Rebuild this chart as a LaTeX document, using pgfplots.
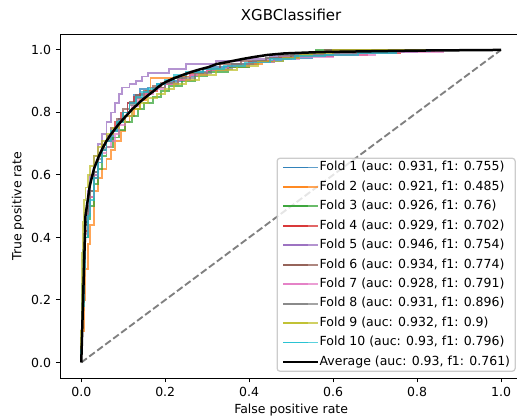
\documentclass[border=0pt]{standalone}
\usepackage{fontspec}
\setmainfont{DejaVu Sans}
\usepackage{pgfplots}
\pgfplotsset{compat=1.18}
\definecolor{c0}{HTML}{1F77B4}
\definecolor{c1}{HTML}{FF7F0E}
\definecolor{c2}{HTML}{2CA02C}
\definecolor{c3}{HTML}{D62728}
\definecolor{c4}{HTML}{9467BD}
\definecolor{c5}{HTML}{8C564B}
\definecolor{c6}{HTML}{E377C2}
\definecolor{c7}{HTML}{7F7F7F}
\definecolor{c8}{HTML}{BCBD22}
\definecolor{c9}{HTML}{17BECF}
\begin{document}
\begin{tikzpicture}
\begin{axis}[name=ax, scale only axis, width=332.4pt, height=247.5pt,
  xmin=-0.05, xmax=1.05, ymin=-0.05, ymax=1.05,
  xtick={0,0.2,0.4,0.6,0.8,1.0}, ytick={0,0.2,0.4,0.6,0.8,1.0},
  xtick pos=bottom, ytick pos=left, tick align=outside,
  major tick length=3.15pt,
  every tick/.style={black, line width=0.72pt},
  axis line style={line width=0.72pt},
  tick label style={font=\fontsize{9}{11}\selectfont},
  /pgf/number format/.cd, fixed, fixed zerofill, precision=1, assume math mode=true,
  /pgfplots/.cd,
  title={XGBClassifier},
  title style={font=\fontsize{10.8}{13}\selectfont, at={(axis description cs:0.5,1.032)}, anchor=center},
  xlabel={False positive rate},
  xlabel style={font=\fontsize{9}{11}\selectfont, at={(axis description cs:0.5,-0.093)}, anchor=center},
  ylabel={True positive rate},
  ylabel style={font=\fontsize{9}{11}\selectfont, at={(axis description cs:-0.0918,0.5)}, anchor=center},
  legend cell align=left,
  legend style={at={(axis description cs:1,0)}, anchor=south east, xshift=-4.5pt, yshift=4.5pt,
    draw=black!20, line width=0.9pt, fill=white, fill opacity=0.8, text opacity=1,
    rounded corners=2pt, font=\fontsize{9}{11}\selectfont,
    inner xsep=3.6pt, inner ysep=2pt, row sep=4.7pt, column sep=0pt,
    nodes={text height=7pt, text depth=2.3pt, inner ysep=0pt, inner xsep=0pt}},
  legend image code/.code={\draw[#1, line width=1.35pt] (0pt,0pt) -- (18pt,0pt); \path (0pt,0pt) -- (25.2pt,0pt);},
  every axis plot/.append style={line width=1.35pt, opacity=0.7},
]
\addplot[color=black!50, line width=1.35pt, dash pattern=on 5pt off 2.16pt, opacity=1, forget plot] coordinates {(0,0) (1,1)};
% Fold 1
\addplot[c0, const plot] coordinates {(0,0) (0,0.05) (0.002,0.25) (0.005,0.36) (0.01,0.45) (0.015,0.5) (0.02,0.55) (0.03,0.6) (0.04,0.64) (0.05,0.68) (0.06,0.71) (0.075,0.74) (0.09,0.78) (0.1,0.8) (0.11,0.83) (0.125,0.855) (0.14,0.875) (0.16,0.88) (0.18,0.89) (0.21,0.9) (0.24,0.915) (0.27,0.93) (0.31,0.945) (0.36,0.955) (0.42,0.965) (0.48,0.975) (0.55,0.98) (0.6,0.985) (0.647,0.992) (0.8,1.0) (1,1)};
\addlegendentry{Fold 1 (auc: 0.931, f1: 0.755)}
% Fold 2
\addplot[c1, const plot] coordinates {(0,0) (0,0.03) (0.003,0.1) (0.006,0.2) (0.01,0.3) (0.015,0.38) (0.02,0.44) (0.03,0.55) (0.04,0.59) (0.05,0.62) (0.06,0.65) (0.07,0.68) (0.08,0.71) (0.095,0.74) (0.105,0.77) (0.115,0.79) (0.125,0.81) (0.14,0.84) (0.155,0.87) (0.165,0.91) (0.22,0.915) (0.26,0.925) (0.3,0.935) (0.35,0.945) (0.4,0.955) (0.43,0.965) (0.45,0.975) (0.47,0.982) (0.57,0.985) (0.65,0.99) (0.7,1.0) (1,1)};
\addlegendentry{Fold 2 (auc: 0.921, f1: 0.485)}
% Fold 3
\addplot[c2, const plot] coordinates {(0,0) (0,0.04) (0.003,0.2) (0.006,0.32) (0.01,0.4) (0.015,0.46) (0.02,0.5) (0.03,0.57) (0.04,0.62) (0.05,0.66) (0.06,0.69) (0.075,0.72) (0.09,0.745) (0.105,0.77) (0.12,0.79) (0.135,0.81) (0.15,0.83) (0.17,0.85) (0.19,0.87) (0.21,0.885) (0.24,0.9) (0.27,0.915) (0.3,0.93) (0.35,0.945) (0.4,0.96) (0.46,0.97) (0.5,0.98) (0.53,0.99) (0.56,1.0) (1,1)};
\addlegendentry{Fold 3 (auc: 0.926, f1: 0.76)}
% Fold 4
\addplot[c3, const plot] coordinates {(0,0) (0,0.05) (0.003,0.22) (0.006,0.33) (0.01,0.42) (0.015,0.48) (0.02,0.53) (0.03,0.59) (0.04,0.64) (0.05,0.68) (0.06,0.71) (0.07,0.74) (0.08,0.77) (0.095,0.8) (0.11,0.83) (0.125,0.85) (0.14,0.86) (0.16,0.87) (0.18,0.88) (0.2,0.89) (0.23,0.905) (0.26,0.92) (0.3,0.935) (0.35,0.95) (0.4,0.963) (0.46,0.975) (0.52,0.98) (0.6,0.985) (0.68,0.99) (0.76,0.995) (0.84,1.0) (1,1)};
\addlegendentry{Fold 4 (auc: 0.929, f1: 0.702)}
% Fold 5
\addplot[c4, const plot] coordinates {(0,0) (0,0.06) (0.003,0.28) (0.006,0.4) (0.01,0.48) (0.015,0.55) (0.02,0.6) (0.03,0.66) (0.04,0.7) (0.05,0.73) (0.06,0.77) (0.07,0.8) (0.08,0.83) (0.09,0.86) (0.097,0.88) (0.115,0.89) (0.13,0.9) (0.145,0.915) (0.16,0.925) (0.21,0.94) (0.25,0.955) (0.32,0.965) (0.38,0.972) (0.45,0.98) (0.52,0.985) (0.6,0.99) (0.7,0.995) (0.8,1.0) (1,1)};
\addlegendentry{Fold 5 (auc: 0.946, f1: 0.754)}
% Fold 6
\addplot[c5, const plot] coordinates {(0,0) (0,0.05) (0.003,0.24) (0.006,0.35) (0.01,0.44) (0.015,0.5) (0.02,0.55) (0.03,0.61) (0.04,0.66) (0.05,0.695) (0.06,0.725) (0.07,0.75) (0.085,0.78) (0.1,0.81) (0.115,0.835) (0.13,0.855) (0.15,0.87) (0.17,0.885) (0.19,0.895) (0.22,0.91) (0.25,0.925) (0.29,0.94) (0.33,0.955) (0.38,0.965) (0.44,0.975) (0.5,0.985) (0.55,0.99) (0.58,1.0) (1,1)};
\addlegendentry{Fold 6 (auc: 0.934, f1: 0.774)}
% Fold 7
\addplot[c6, const plot] coordinates {(0,0) (0,0.05) (0.003,0.2) (0.006,0.32) (0.01,0.41) (0.015,0.48) (0.02,0.53) (0.03,0.6) (0.04,0.64) (0.05,0.67) (0.06,0.69) (0.07,0.71) (0.08,0.73) (0.09,0.76) (0.105,0.79) (0.12,0.82) (0.135,0.845) (0.15,0.86) (0.17,0.875) (0.2,0.89) (0.23,0.905) (0.26,0.92) (0.3,0.935) (0.35,0.95) (0.4,0.96) (0.46,0.97) (0.52,0.978) (0.6,0.985) (0.7,0.99) (0.75,0.993) (0.862,1.0) (1,1)};
\addlegendentry{Fold 7 (auc: 0.928, f1: 0.791)}
% Fold 8
\addplot[c7, const plot] coordinates {(0,0) (0,0.06) (0.003,0.23) (0.006,0.35) (0.01,0.44) (0.015,0.5) (0.02,0.55) (0.03,0.61) (0.04,0.65) (0.05,0.685) (0.06,0.715) (0.07,0.74) (0.085,0.77) (0.1,0.8) (0.115,0.825) (0.13,0.845) (0.15,0.865) (0.17,0.88) (0.2,0.895) (0.23,0.91) (0.27,0.925) (0.31,0.94) (0.36,0.955) (0.41,0.965) (0.44,0.975) (0.47,0.985) (0.6,0.99) (0.75,0.995) (0.8,1.0) (1,1)};
\addlegendentry{Fold 8 (auc: 0.931, f1: 0.896)}
% Fold 9
\addplot[c8, const plot] coordinates {(0,0) (0,0.1) (0.002,0.35) (0.004,0.45) (0.007,0.52) (0.01,0.56) (0.015,0.6) (0.02,0.63) (0.03,0.66) (0.04,0.69) (0.05,0.71) (0.06,0.73) (0.075,0.75) (0.09,0.77) (0.105,0.79) (0.12,0.81) (0.14,0.83) (0.16,0.845) (0.18,0.86) (0.2,0.875) (0.22,0.89) (0.25,0.905) (0.28,0.92) (0.32,0.935) (0.37,0.95) (0.42,0.963) (0.48,0.975) (0.52,0.983) (0.55,0.99) (0.6,1.0) (1,1)};
\addlegendentry{Fold 9 (auc: 0.932, f1: 0.9)}
% Fold 10
\addplot[c9, const plot] coordinates {(0,0) (0,0.04) (0.003,0.18) (0.006,0.3) (0.01,0.4) (0.015,0.47) (0.02,0.52) (0.03,0.59) (0.04,0.64) (0.05,0.68) (0.06,0.71) (0.07,0.74) (0.085,0.77) (0.1,0.8) (0.115,0.83) (0.13,0.85) (0.145,0.865) (0.16,0.875) (0.18,0.89) (0.2,0.905) (0.22,0.92) (0.25,0.93) (0.29,0.94) (0.34,0.95) (0.39,0.96) (0.45,0.97) (0.51,0.98) (0.58,0.985) (0.66,0.99) (0.75,0.995) (0.83,1.0) (1,1)};
\addlegendentry{Fold 10 (auc: 0.93, f1: 0.796)}
% Average
\addplot[black, line width=1.8pt, opacity=1] coordinates {(0,0) (0.0101,0.47) (0.0202,0.565) (0.0303,0.62) (0.0404,0.655) (0.0505,0.685) (0.0606,0.71) (0.0707,0.73) (0.0808,0.748) (0.0909,0.765) (0.101,0.78) (0.111,0.795) (0.121,0.81) (0.131,0.822) (0.141,0.835) (0.152,0.847) (0.162,0.858) (0.172,0.868) (0.182,0.88) (0.192,0.89) (0.202,0.898) (0.222,0.91) (0.242,0.92) (0.263,0.93) (0.283,0.938) (0.303,0.945) (0.323,0.955) (0.354,0.963) (0.384,0.971) (0.414,0.978) (0.444,0.984) (0.485,0.989) (0.525,0.991) (0.566,0.993) (0.606,0.994) (0.7,0.996) (0.8,0.998) (0.9,0.999) (1,1)};
\addlegendentry{Average (auc: 0.93, f1: 0.761)}
\end{axis}
\pgfresetboundingbox
\path[use as bounding box] ([xshift=-43.4pt,yshift=-28.8pt]ax.south west) rectangle ([xshift=328.8pt,yshift=24.7pt]ax.north west);
\end{tikzpicture}
\end{document}
